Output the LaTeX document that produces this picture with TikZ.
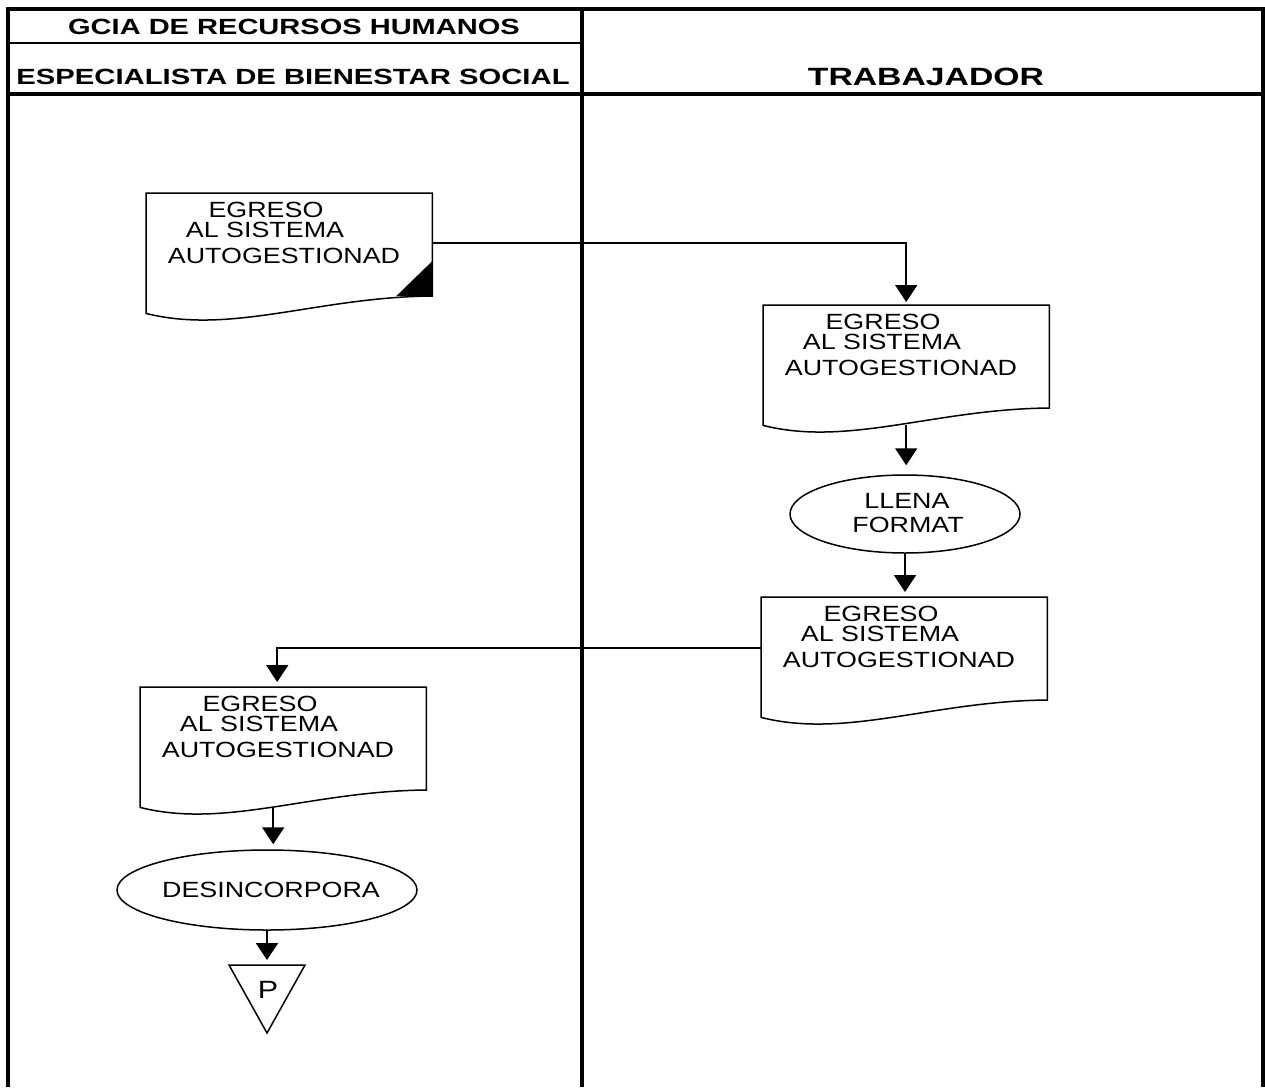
\documentclass[tikz,border=0pt]{standalone}
\usepackage{fontspec}
\setmainfont{Liberation Sans}
\usetikzlibrary{calc,arrows.meta,shapes.geometric}

% horizontally widened lettering
\newcommand\sx[2][1.22]{\scalebox{#1}[1]{#2}}

\tikzset{
  frame/.style={line width=3.4pt},
  thinframe/.style={line width=1.8pt},
  outline/.style={line width=1.5pt},
  conn/.style={line width=2pt, -{Triangle[length=17pt,width=22pt]}},
  body/.style={inner sep=0pt, anchor=base, font=\fontsize{22}{22}\selectfont},
  head/.style={inner sep=0pt, anchor=base, font=\fontsize{22}{22}\selectfont\bfseries},
  docnode/.style={inner sep=0pt, minimum width=286pt, minimum height=120pt, anchor=north west},
  proc/.style={ellipse, draw, line width=1.5pt, inner sep=0pt},
}

% document symbol with its three text lines
\newcommand\docbox[3]{%
  \node[docnode] (#1) at (#2,#3) {};
  \draw[outline] (#1.north west) -- (#1.north east) -- ($(#1.north east)+(0,103)$)
    .. controls ($(#1.north west)+(171.6,104)$) and ($(#1.north west)+(85.8,142)$) .. (#1.south west) -- cycle;
  \node[body] (#1-a) at ($(#1.north west)+(120,24)$) {\sx{EGRESO}};
  \node[body] (#1-b) at ($(#1.north west)+(119,44)$) {\sx{AL SISTEMA}};
  \node[body] (#1-c) at ($(#1.north west)+(138,70)$) {\sx{AUTOGESTIONAD}};
}

\begin{document}
\begin{tikzpicture}[x=1pt,y=-1pt]
  \useasboundingbox (0,0) rectangle (1265,1087);

  % swimlane frame
  \draw[frame] (8,1087) -- (8,9) -- (1263,9) -- (1263,1087);
  \draw[frame] (582,9) -- (582,1087);
  \draw[frame] (8,94) -- (1263,94);
  \draw[thinframe] (8,43) -- (582,43);

  % lane headings
  \node[head] (h1) at (294,34) {\sx[1.32]{GCIA DE RECURSOS HUMANOS}};
  \node[head] (h2) at (293,84) {\sx[1.33]{ESPECIALISTA DE BIENESTAR SOCIAL}};
  \node[head, font=\fontsize{25}{25}\selectfont\bfseries] (h3) at (926,85) {\sx[1.35]{TRABAJADOR}};

  % documents
  \docbox{d1}{146}{193}
  \fill ($(d1.north east)+(0,68)$) -- ($(d1.north east)+(0,103)$) -- ($(d1.north east)+(-36,103)$) -- cycle;
  \docbox{d2}{763}{305}
  \docbox{d3}{761}{597}
  \docbox{d4}{140}{687}

  % processes
  \node[proc, minimum width=230pt, minimum height=78pt] (e1) at (905,514) {};
  \node[body] (e1-a) at (907,508) {\sx{LLENA}};
  \node[body] (e1-b) at (908,532) {\sx{FORMAT}};
  \node[proc, minimum width=300pt, minimum height=80pt] (e2) at (267,890) {};
  \node[body] (e2-a) at (271,897) {\sx{DESINCORPORA}};

  % off-page connector
  \coordinate (tA) at (229,965);
  \coordinate (tB) at (305,965);
  \coordinate (tC) at (267,1033);
  \coordinate (ttop) at (267,965);
  \draw[outline, line join=miter] (tA) -- (tB) -- (tC) -- cycle;
  \node[body, font=\fontsize{25}{25}\selectfont] (pP) at (268,998) {\sx{P}};

  % flow
  \draw[conn, shorten >=3pt] ($(d1.north east)+(0,50)$) -| (d2.north);
  \draw[conn, shorten >=9pt] (d2.south) -- (d2.south |- e1.north);
  \draw[conn, shorten >=5pt] (e1.south) -- (e1.south |- d3.north);
  \coordinate (d3o) at ($(d3.north west)+(0,51)$);
  \coordinate (d4i) at ($(d4.north)+(-6,0)$);
  \draw[conn, shorten >=5pt] (d3o) -| (d4i);
  \coordinate (d4o) at ($(d4.south)+(-10,0)$);
  \draw[conn, shorten >=5pt] (d4o) -- (d4o |- e2.north);
  \draw[conn, shorten >=5pt] (e2.south) -- (ttop);
\end{tikzpicture}
\end{document}
